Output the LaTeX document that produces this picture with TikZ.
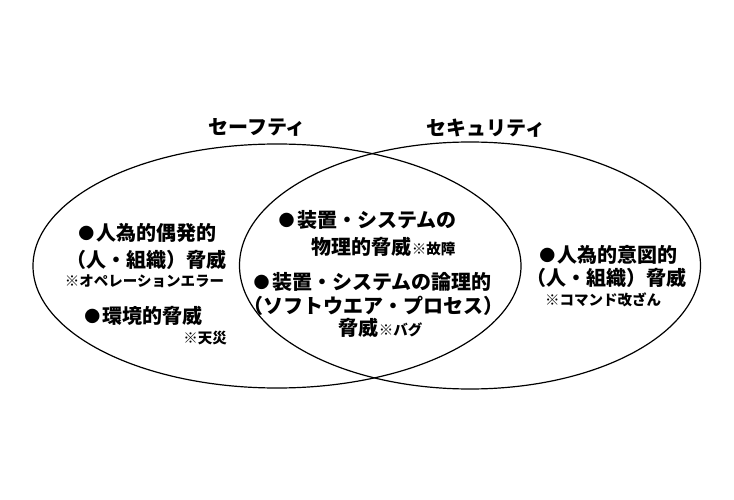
\documentclass[tikz,border=0pt]{standalone}
\usepackage{fontspec}
\setmainfont{Noto Sans CJK JP}
\newcommand{\notesz}{\fontsize{14.5}{17}\selectfont}
\newcommand{\bul}{\raisebox{1.5pt}{\fontsize{16}{16}\selectfont ●}\hspace{2.5pt}}
\tikzset{
  title/.style={font=\fontsize{20}{24}\selectfont\bfseries, inner sep=0pt},
  mainline/.style={font=\fontsize{20}{24}\selectfont\bfseries, inner sep=0pt},
  noteline/.style={font=\notesz\bfseries, inner sep=0pt},
  setline/.style={draw=black, line width=1.2pt},
}
\begin{document}
\begin{tikzpicture}[x=1pt,y=-1pt]
\useasboundingbox (0,0) rectangle (734,500);
\fill[white] (0,0) rectangle (734,500);
% sets
\draw[setline] (277,266) ellipse [x radius=244, y radius=122];
\draw[setline] (470,265.5) ellipse [x radius=230.5, y radius=123.5];
% titles
\node[title] (tsafe) at (257,127) {セーフティ};
\node[title] (tsec) at (486,128) {セキュリティ};
% left
\node[mainline] (l1) at (147.5,233) {\bul 人為的偶発的};
\node[mainline] (l2) at (146,260) {（人・組織）脅威};
\node[noteline] (l3) at (144.5,281) {※オペレーションエラー};
\node[mainline] (l4) at (143.5,316) {\bul 環境的脅威};
\node[noteline] (l5) at (205,338) {※天災};
% center
\node[mainline] (c1) at (367.5,220) {\bul 装置・システムの};
\node[mainline] (c2) at (383.5,247) {物理的脅威{\notesz ※故障}};
\node[mainline] (c3) at (372.5,282) {\bul 装置・システムの論理的};
\node[mainline] (c4) at (373.5,306) {（ソフトウエア・プロセス）};
\node[mainline] (c5) at (380.5,328) {脅威{\notesz ※バグ}};
% right
\node[mainline] (r1) at (608.5,255) {\bul 人為的意図的};
\node[mainline] (r2) at (606.5,278) {（人・組織）脅威};
\node[noteline] (r3) at (603,300) {※コマンド改ざん};
\end{tikzpicture}
\end{document}
